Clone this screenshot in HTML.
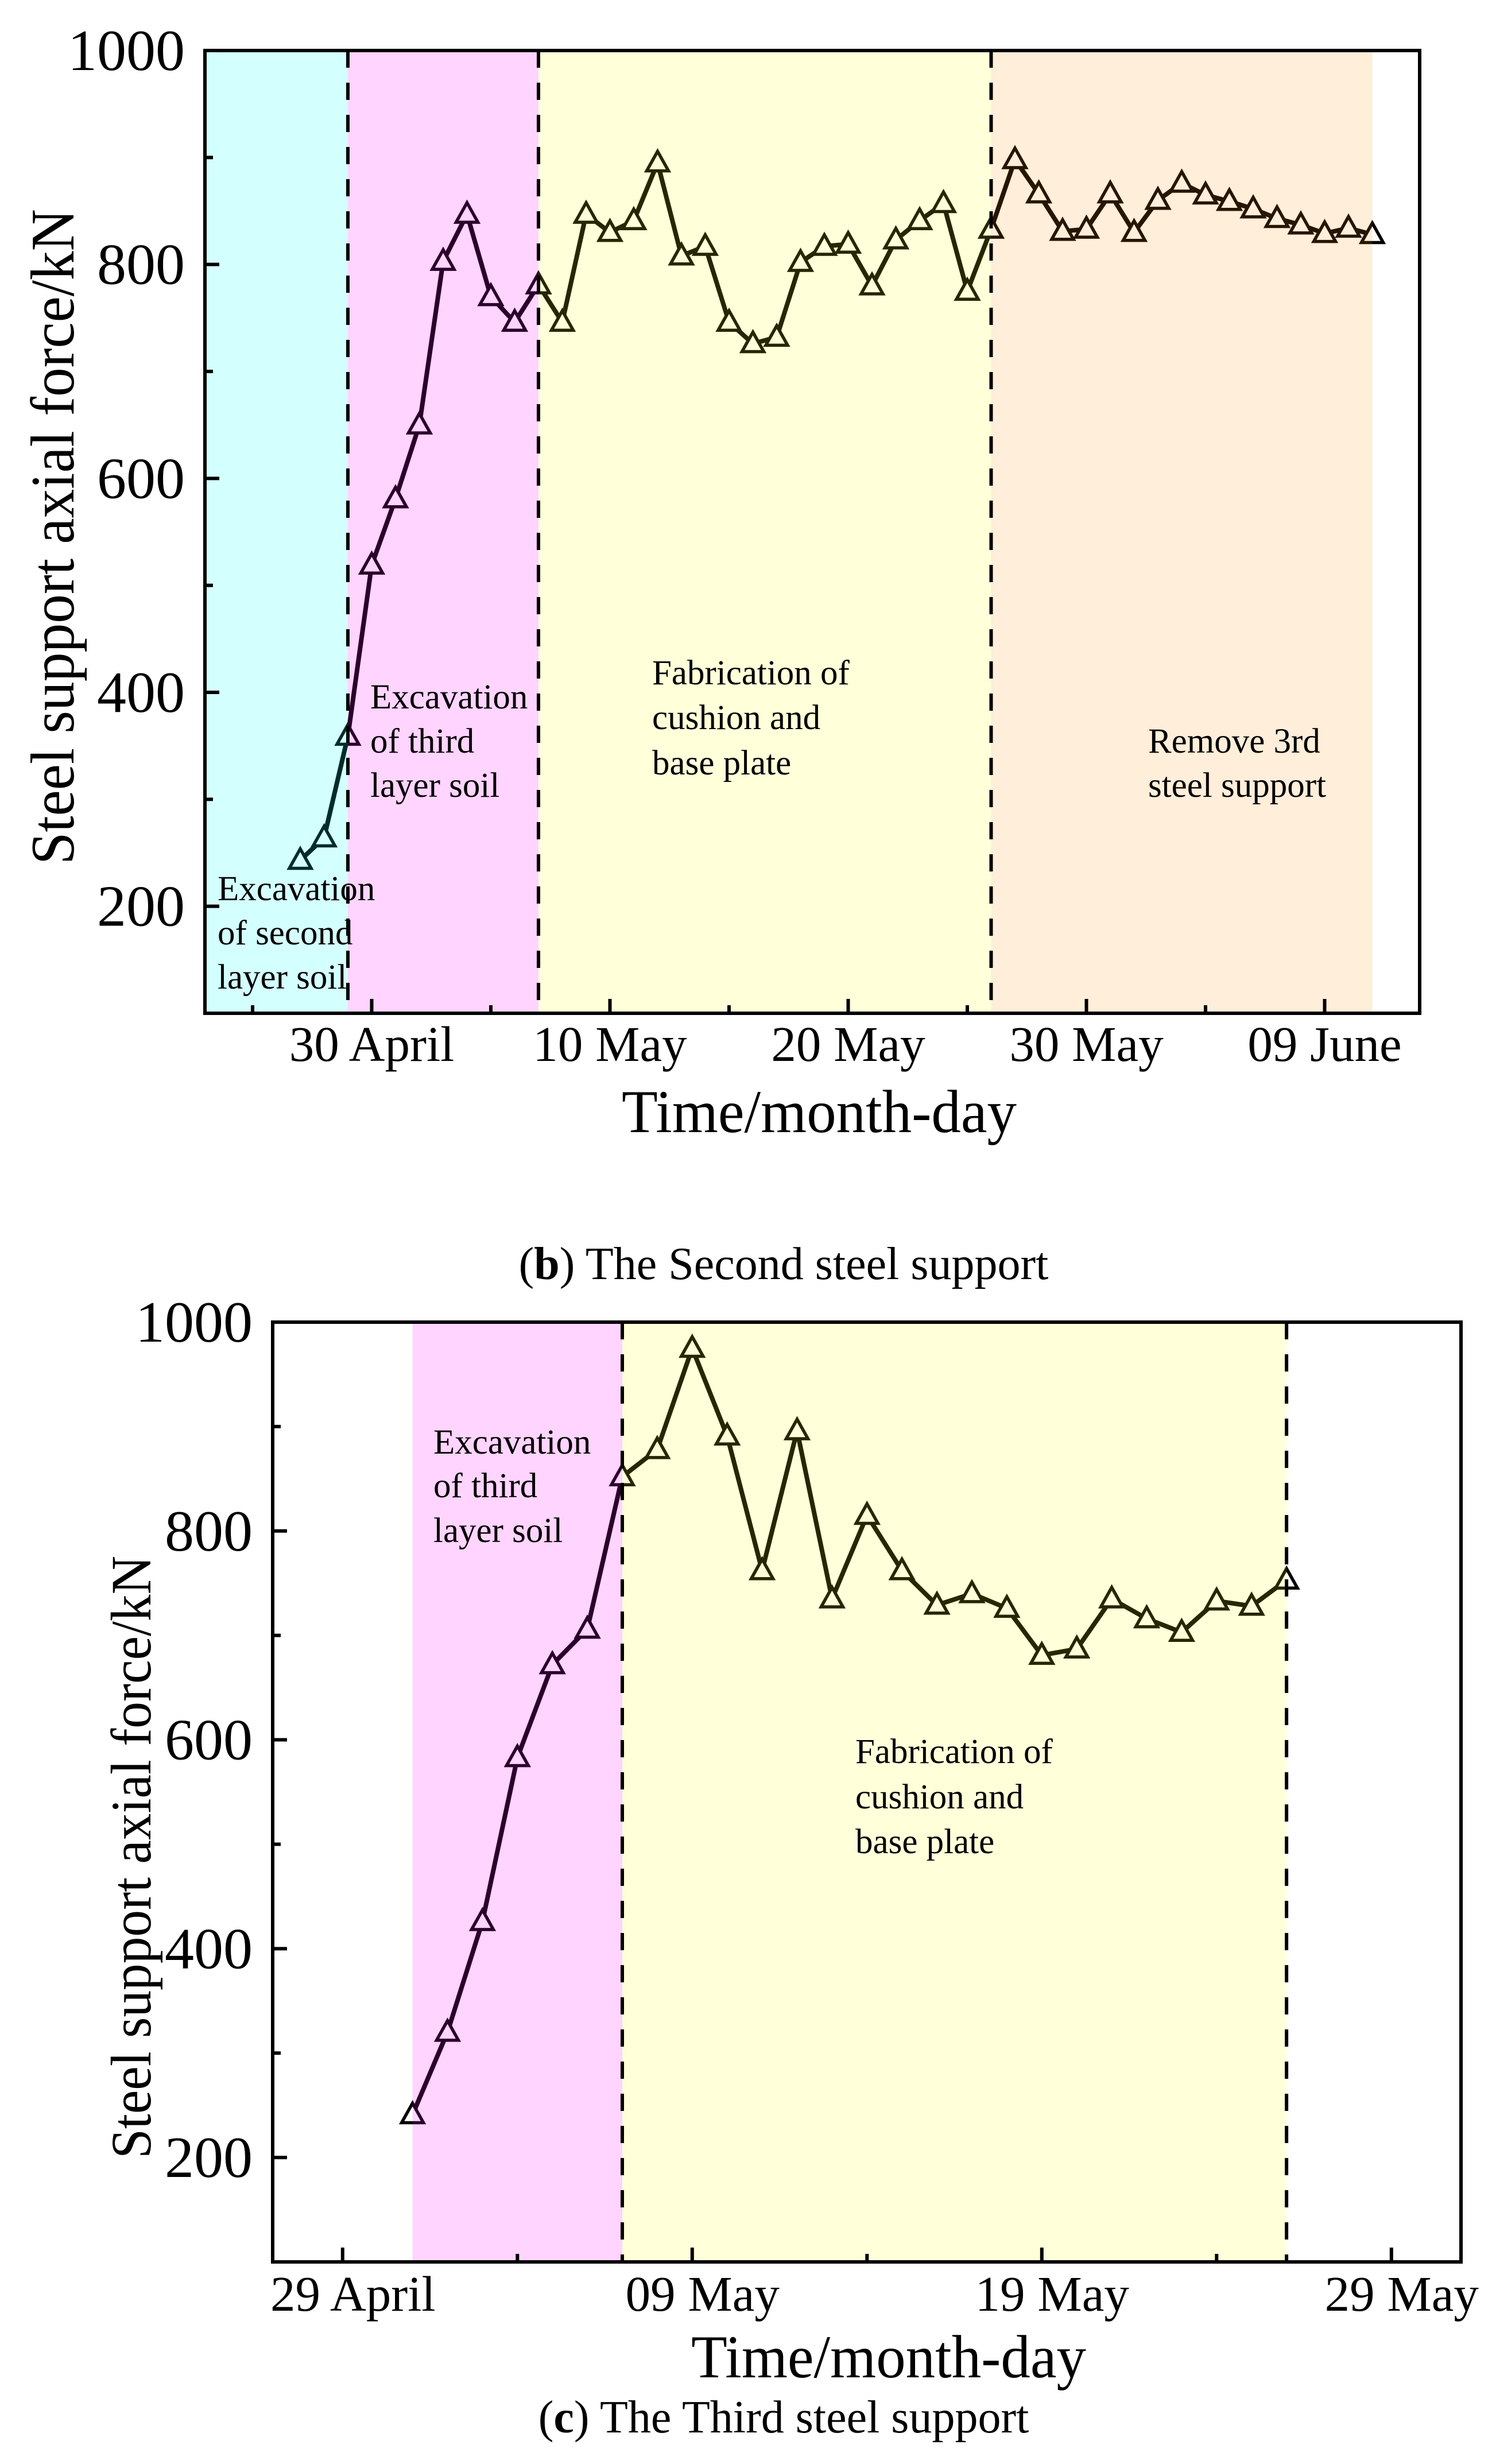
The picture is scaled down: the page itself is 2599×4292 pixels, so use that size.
<!DOCTYPE html>
<html><head><meta charset="utf-8"><style>
html,body{margin:0;padding:0;background:#fff;}
svg{display:block;}
text{font-family:"Liberation Serif",serif;fill:#000;}
</style></head><body>
<svg id="fig" width="2599" height="4292" viewBox="0 0 2599 4292" xmlns="http://www.w3.org/2000/svg"></svg>
<script>
// ---- Chart (b) data: days relative to 30 April ----
const daysB = [-3,-2,-1,0,1,2,3,4,5,6,7,8,9,10,11,12,13,14,15,16,17,18,19,20,21,22,23,24,25,26,27,28,29,30,31,32,33,34,35,36,37,38,39,40,41,42];
const forceB = [243,264,359,519,581,650,803,847,770,746,781,746,847,830,841,895,808,817,746,726,732,802,817,819,780,823,841,857,775,833,898,866,831,833,866,830,860,876,865,859,852,843,837,829,834,828];
const tickDaysB = [0,10,20,30,40];
const tickLabelsB = ["30 April","10 May","20 May","30 May","09 June"];
const phaseStartB = [-7,-1,7,26];
const phaseEndB = [-1,7,26,42];
const dashDaysB = [-1,7,26];
// ---- Chart (c) data: days relative to 29 April ----
const daysC = [2,3,4,5,6,7,8,9,10,11,12,13,14,15,16,17,18,19,20,21,22,23,24,25,26,27];
const forceC = [241,320,426,583,672,706,852,878,975,891,762,896,735,815,762,729,740,726,681,687,735,716,703,733,728,753];
const tickDaysC = [0,10,20,30];
const tickLabelsC = ["29 April","09 May","19 May","29 May"];
const phaseStartC = [2,8];
const phaseEndC = [8,27];
const dashDaysC = [8,27];
const yTicks = [200,400,600,800,1000];
const yMinor = [100,300,500,700,900];

const NS="http://www.w3.org/2000/svg";
const svg=document.getElementById('fig');
function mk(tag,attrs,parent){const e=document.createElementNS(NS,tag);for(const k in attrs)e.setAttribute(k,attrs[k]);(parent||svg).appendChild(e);return e;}

function chart(cfg){
  const g=mk('g',{});
  
  
  const X=d=>cfg.x0+(d-cfg.d0)*cfg.px;
  const Y=v=>cfg.bottom-(v-100)*(cfg.bottom-cfg.top)/900;
  let pts=cfg.days.map((d,i)=>X(d)+','+Y(cfg.vals[i])).join(' ');
  const pl=mk('polyline',{points:pts,fill:'none',stroke:'#000','stroke-width':8,'stroke-linejoin':'round'},g);
  
  
  cfg.days.forEach((d,i)=>{
    const cx=X(d),cy=Y(cfg.vals[i]);
    const t=mk('polygon',{points:`${cx},${cy-20} ${cx-19},${cy+14} ${cx+19},${cy+14}`,fill:'#fff',stroke:'#000','stroke-width':5.5,'stroke-linejoin':'miter'},g);
    
    
  });
  cfg.ps.forEach((s,i)=>{
    const r=mk('rect',{x:X(s),y:cfg.top,width:X(cfg.pe[i])-X(s),height:cfg.bottom-cfg.top,fill:cfg.colors[i],'fill-opacity':cfg.alphas[i]},g);
    
    
  });
  cfg.dash.forEach(d=>{
    const l=mk('line',{x1:X(d),x2:X(d),y1:cfg.top,y2:cfg.bottom,stroke:'#000','stroke-width':6,'stroke-dasharray':'30 26'},g);
    
    
  });
  const fr=mk('rect',{x:cfg.x0,y:cfg.top,width:cfg.right-cfg.x0,height:cfg.bottom-cfg.top,fill:'none',stroke:'#000','stroke-width':6},g);
  
  
  yTicks.forEach(v=>{
    mk('line',{x1:cfg.x0,x2:cfg.x0+25,y1:Y(v),y2:Y(v),stroke:'#000','stroke-width':6},g);
    const t=mk('text',{x:cfg.x0-35,y:Y(v)+34,'text-anchor':'end','font-size':102},g);
    t.textContent=v;
    
    
  });
  yMinor.forEach(v=>{mk('line',{x1:cfg.x0,x2:cfg.x0+14,y1:Y(v),y2:Y(v),stroke:'#000','stroke-width':6},g);});
  cfg.ticks.forEach((d,i)=>{
    mk('line',{x1:X(d),x2:X(d),y1:cfg.bottom,y2:cfg.bottom-25,stroke:'#000','stroke-width':6},g);
    const t=mk('text',{x:X(d)+cfg.lblOff,y:cfg.tickBase,'text-anchor':'middle','font-size':87},g);
    t.textContent=cfg.labels[i];
    
    
    const m=d+5;
    if(X(m)<cfg.right) mk('line',{x1:X(m),x2:X(m),y1:cfg.bottom,y2:cfg.bottom-14,stroke:'#000','stroke-width':6},g);
    if(i===0&&X(d-5)>cfg.x0) mk('line',{x1:X(d-5),x2:X(d-5),y1:cfg.bottom,y2:cfg.bottom-14,stroke:'#000','stroke-width':6},g);
  });
  const xt=mk('text',{x:cfg.xtX,y:cfg.xtY,'text-anchor':'middle','font-size':106,textLength:688,lengthAdjust:'spacingAndGlyphs'},g);
  xt.textContent='Time/month-day';
  
  
  const yt=mk('text',{x:0,y:0,'text-anchor':'middle','font-size':cfg.ytSize,transform:`translate(${cfg.ytX},${cfg.ytY}) rotate(-90)`,textLength:cfg.ytLen,lengthAdjust:'spacingAndGlyphs'},g);
  yt.textContent='Steel support axial force/kN';
  
  
  cfg.notes.forEach(n=>{
    n.lines.forEach((s,j)=>{
      const t=mk('text',{x:n.x,y:n.y[j],'font-size':61},g);
      t.textContent=s;
      
      
    });
  });
}

chart({name:'chart-second-support',x0:357,right:2473,d0:-7,px:41.5,top:88,bottom:1765,
  days:daysB,vals:forceB,ticks:tickDaysB,labels:tickLabelsB,ps:phaseStartB,pe:phaseEndB,dash:dashDaysB,
  colors:['#00ffff','#ff00ff','#ffff00','#ff8c00'],alphas:[0.17,0.17,0.15,0.15],
  tickBase:1848,lblOff:0,xtX:1427,xtY:1972,ytX:128,ytY:935,ytSize:108,ytLen:1142,
  notes:[{x:379,y:[1568,1645,1722],lines:['Excavation','of second','layer soil']},
         {x:645,y:[1234,1311,1388],lines:['Excavation','of third','layer soil']},
         {x:1136,y:[1192,1270,1349],lines:['Fabrication of','cushion and','base plate']},
         {x:2000,y:[1311,1388],lines:['Remove 3rd','steel support']}]});

chart({name:'chart-third-support',x0:475,right:2545,d0:-2,px:60.9,top:2303,bottom:3940,
  days:daysC,vals:forceC,ticks:tickDaysC,labels:tickLabelsC,ps:phaseStartC,pe:phaseEndC,dash:dashDaysC,
  colors:['#ff00ff','#ffff00'],alphas:[0.17,0.15],
  tickBase:4025,lblOff:18,xtX:1548,xtY:4141,ytX:262,ytY:3235,ytSize:100,ytLen:1050,
  notes:[{x:755,y:[2532,2608,2686],lines:['Excavation','of third','layer soil']},
         {x:1490,y:[3071,3150,3228],lines:['Fabrication of','cushion and','base plate']}]});

function caption(x,y,letter,rest,name){
  const t=mk('text',{x:x,y:y,'text-anchor':'middle','font-size':80});
  
  
  const a=mk('tspan',{},t);a.textContent='(';
  const b=mk('tspan',{'font-weight':'bold'},t);b.textContent=letter;
  const c=mk('tspan',{},t);c.textContent=') '+rest;
}
caption(1365,2228,'b','The Second steel support','caption-b');
caption(1365,4237,'c','The Third steel support','caption-c');
</script>
</body></html>
